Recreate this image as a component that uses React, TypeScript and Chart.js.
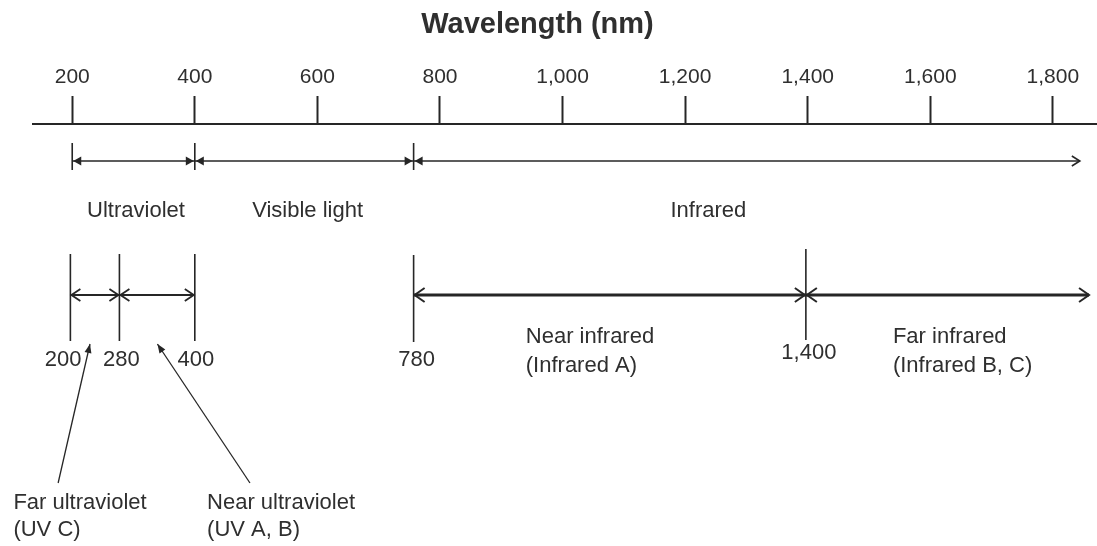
import React, { useEffect, useRef } from 'react';
import { Chart, registerables } from 'chart.js';

Chart.register(...registerables);

// ---------------- data ----------------
const axisTitle = 'Wavelength (nm)';
const tickValues = [200, 400, 600, 800, 1000, 1200, 1400, 1600, 1800];
const axisMin = 136;
const axisMax = 1872;

// main bands (as drawn in the diagram)
const bandNames = ['Ultraviolet', 'Visible light', 'Infrared'];
const bandEdges = [200, 400, 757];
const bandEnd = 1844;
const bandLabelAt = [304, 584, 1238];

// ultraviolet subdivision
const uvEdges = [197, 277, 400];
const uvEdgeLabels = ['200', '280', '400'];
const uvNames = [['Far ultraviolet', '(UV C)'], ['Near ultraviolet', '(UV A, B)']];
const uvNameAt = [104, 420];
const uvPointerFrom = [177, 490];
const uvPointerTo = [229, 339];

// infrared subdivision
const irEdges = [757, 1397];
const irEnd = 1859;
const irEdgeLabels = ['780', '1,400'];
const irNames = [['Near infrared', '(Infrared A)'], ['Far infrared', '(Infrared B, C)']];
const irNameAt = [940, 1539];

// ---------------- styles / layout levels ----------------
const INK = '#262626';
const TEXT = '#2f2f2f';
const FONT = "'Liberation Sans', Arial, sans-serif";
const AXIS_BOX = 124;
const LV = {
  row1: 37, row1Top: 19, row1Bot: 46, row1Label: 87,
  row2: 171,
  uvTop: 130, uvBot: 217,
  irTop: [131, 125], irBot: [218, 216],
  edgeLabel: 236, edgeLabel1400: 229,
  irName1: 213, irName2: 242,
  uvName1: 379, uvName2: 406,
  ptrFrom: 359, ptrTo: 220,
};

const seg = (x1: number, y1: number, x2: number, y2: number, w: number) => ({
  data: [{ x: x1, y: y1 }, { x: x2, y: y2 }],
  borderColor: INK,
  borderWidth: w,
  pointRadius: 0,
  fill: false,
  tension: 0,
});

function head(ctx: CanvasRenderingContext2D, tx: number, ty: number, dx: number, dy: number,
  len: number, half: number, filled: boolean, lw: number) {
  const m = Math.hypot(dx, dy);
  dx /= m; dy /= m;
  const bx = tx - dx * len, by = ty - dy * len;
  const px = -dy, py = dx;
  ctx.save();
  ctx.strokeStyle = INK;
  ctx.fillStyle = INK;
  ctx.lineWidth = lw;
  ctx.lineJoin = 'miter';
  ctx.beginPath();
  ctx.moveTo(bx + px * half, by + py * half);
  ctx.lineTo(tx, ty);
  ctx.lineTo(bx - px * half, by - py * half);
  if (filled) { ctx.closePath(); ctx.fill(); } else { ctx.stroke(); }
  ctx.restore();
}

const decorPlugin = {
  id: 'decor',
  afterDatasetsDraw(chart: any) {
    const ctx: CanvasRenderingContext2D = chart.ctx;
    const xs = chart.scales.x, ys = chart.scales.y;
    const X = (v: number) => xs.getPixelForValue(v);
    const Y = (v: number) => ys.getPixelForValue(v);

    // row 1 arrowheads
    const r1 = Y(LV.row1);
    bandEdges.forEach((e, i) => {
      const x = X(e);
      head(ctx, x + 1, r1, -1, 0, 8, 4.5, true, 1);
      if (i > 0) head(ctx, x - 1, r1, 1, 0, 8, 4.5, true, 1);
    });
    head(ctx, X(bandEnd), r1, 1, 0, 8, 5, false, 1.6);

    // row 2 arrowheads
    const r2 = Y(LV.row2);
    uvEdges.forEach((e, i) => {
      const x = X(e);
      if (i < uvEdges.length - 1) head(ctx, x + 1, r2, -1, 0, 9, 6, false, 1.8);
      if (i > 0) head(ctx, x - 1, r2, 1, 0, 9, 6, false, 1.8);
    });
    irEdges.forEach((e, i) => {
      const x = X(e);
      head(ctx, x + 1, r2, -1, 0, 10, 7, false, 2);
      if (i > 0) head(ctx, x - 1, r2, 1, 0, 10, 7, false, 2);
    });
    head(ctx, X(irEnd), r2, 1, 0, 10, 7, false, 2);

    // pointer arrowheads
    uvPointerTo.forEach((t, i) => {
      const tx = X(t), ty = Y(LV.ptrTo);
      const fx = X(uvPointerFrom[i]), fy = Y(LV.ptrFrom);
      head(ctx, tx, ty, tx - fx, ty - fy, 9, 3.5, true, 1);
    });

    // texts
    ctx.save();
    ctx.fillStyle = TEXT;
    ctx.textBaseline = 'middle';
    ctx.font = `bold 29px ${FONT}`;
    ctx.textAlign = 'center';
    ctx.fillText(axisTitle, chart.width / 2 - 11, 25);

    ctx.font = `22px ${FONT}`;
    bandNames.forEach((n, i) => ctx.fillText(n, X(bandLabelAt[i]), Y(LV.row1Label)));

    uvEdges.forEach((e, i) => {
      const x = X(e);
      if (i === 0) { ctx.textAlign = 'right'; ctx.fillText(uvEdgeLabels[i], x + 11, Y(LV.edgeLabel)); }
      else { ctx.textAlign = 'center'; ctx.fillText(uvEdgeLabels[i], x + (i === 1 ? 2 : 1), Y(LV.edgeLabel)); }
    });
    ctx.textAlign = 'center';
    irEdges.forEach((e, i) => {
      ctx.fillText(irEdgeLabels[i], X(e) + 3, Y(i === 0 ? LV.edgeLabel : LV.edgeLabel1400));
    });

    ctx.textAlign = 'left';
    irNames.forEach((lines, i) => {
      ctx.fillText(lines[0], X(irNameAt[i]), Y(LV.irName1));
      ctx.fillText(lines[1], X(irNameAt[i]), Y(LV.irName2));
    });
    uvNames.forEach((lines, i) => {
      ctx.fillText(lines[0], X(uvNameAt[i]), Y(LV.uvName1));
      ctx.fillText(lines[1], X(uvNameAt[i]), Y(LV.uvName2));
    });
    ctx.restore();
  },
};

export default function App() {
  const ref = useRef<HTMLCanvasElement | null>(null);

  useEffect(() => {
    if (!ref.current) return;
    Chart.defaults.font.family = FONT;

    const datasets: any[] = [];
    // row 1: main bands
    datasets.push(seg(bandEdges[0], LV.row1, bandEnd, LV.row1, 1.4));
    bandEdges.forEach(e => datasets.push(seg(e, LV.row1Top, e, LV.row1Bot, 1.6)));
    // row 2: UV
    datasets.push(seg(uvEdges[0], LV.row2, uvEdges[uvEdges.length - 1], LV.row2, 2));
    uvEdges.forEach(e => datasets.push(seg(e, LV.uvTop, e, LV.uvBot, 1.6)));
    // row 2: IR
    datasets.push(seg(irEdges[0], LV.row2, irEnd, LV.row2, 3));
    irEdges.forEach((e, i) => datasets.push(seg(e, LV.irTop[i], e, LV.irBot[i], 1.6)));
    // UV pointers
    uvPointerFrom.forEach((f, i) => datasets.push(seg(f, LV.ptrFrom, uvPointerTo[i], LV.ptrTo, 1.3)));

    const chart = new Chart(ref.current, {
      type: 'line',
      data: { datasets },
      options: {
        animation: false,
        responsive: false,
        maintainAspectRatio: false,
        layout: { padding: { left: 33, right: 0, top: 0, bottom: 0 } },
        plugins: { legend: { display: false }, tooltip: { enabled: false }, title: { display: false } },
        scales: {
          x: {
            type: 'linear',
            position: 'top',
            min: axisMin,
            max: axisMax,
            afterBuildTicks: (s: any) => { s.ticks = tickValues.map(v => ({ value: v })); },
            afterFit: (s: any) => { s.height = AXIS_BOX; },
            grid: { drawOnChartArea: false, drawTicks: true, tickLength: 28, tickWidth: 2, tickColor: INK },
            border: { display: true, color: INK, width: 2 },
            ticks: {
              padding: 6,
              color: TEXT,
              font: { size: 21, family: FONT },
              maxRotation: 0,
              autoSkip: false,
              callback: (v: any) => Number(v).toLocaleString('en-US'),
            },
          },
          y: { type: 'linear', display: false, reverse: true, min: 0, max: 546 - AXIS_BOX },
        },
      },
      plugins: [decorPlugin],
    } as any);
    return () => chart.destroy();
  }, []);

  return (
    <div style={{ position: 'fixed', left: 0, top: 0, width: 1097, height: 546, background: '#fff' }}>
      <canvas ref={ref} width={1097} height={546} />
    </div>
  );
}
